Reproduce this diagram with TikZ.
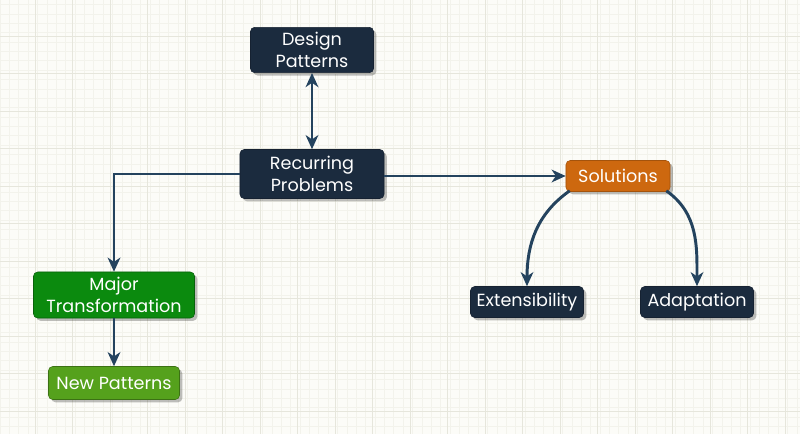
\documentclass[tikz,border=0pt]{standalone}
\usepackage{fontspec}
\setmainfont{Poppins}
\usetikzlibrary{arrows.meta,shadows}

\definecolor{paper}{HTML}{FCFCF8}
\definecolor{gridminor}{HTML}{F3F3EC}
\definecolor{gridmajor}{HTML}{E6E6DC}
\definecolor{navy}{HTML}{1B2B3E}
\definecolor{link}{HTML}{24435E}
\definecolor{solorange}{HTML}{CD680F}
\definecolor{majgreen}{HTML}{0B8A0E}
\definecolor{newgreen}{HTML}{55A11C}

\tikzset{
    box/.style={rounded corners=3pt, text=white, align=center,
        font=\fontsize{12.5}{16}\selectfont,
        drop shadow={shadow xshift=2pt, shadow yshift=-2pt, fill=black, opacity=0.25}},
    navybox/.style={box, fill=navy, draw=navy!80!black},
    orangebox/.style={box, fill=solorange, draw=solorange!80!black},
    greenbox/.style={box, fill=majgreen, draw=majgreen!70!black},
    lightgreenbox/.style={box, fill=newgreen, draw=newgreen!70!black},
    arr/.style={draw=link, line width=2.1pt, >={Stealth[length=10pt,width=9pt,inset=3pt]}, ->}
}

\begin{document}
\begin{tikzpicture}[x=0.025cm,y=-0.025cm]
    %background and grid
    \fill[paper] (0,0) rectangle (800,434);
    \useasboundingbox (0,0) rectangle (800,434);
    \foreach \gx in {0,9.375,...,800} \draw[gridminor,line width=0.4pt] (\gx,0) -- (\gx,434);
    \foreach \gy in {4.5,13.875,...,434} \draw[gridminor,line width=0.4pt] (0,\gy) -- (800,\gy);
    \foreach \gx in {35,72.5,...,800} \draw[gridmajor,line width=0.5pt] (\gx,0) -- (\gx,434);
    \foreach \gy in {36,73.5,...,434} \draw[gridmajor,line width=0.5pt] (0,\gy) -- (800,\gy);

    %nodes
    \node[navybox, minimum width=3.075cm, minimum height=1.125cm] (design) at (312,50) {Design\\Patterns};
    \node[navybox, minimum width=3.6cm, minimum height=1.225cm] (recurring) at (312,174) {Recurring\\Problems};
    \node[orangebox, minimum width=2.6cm, minimum height=0.775cm] (solutions) at (618,176) {Solutions};
    \node[greenbox, minimum width=4.025cm, minimum height=1.15cm] (major) at (114,295) {Major\\Transformation};
    \node[lightgreenbox, minimum width=3.275cm, minimum height=0.825cm] (newpat) at (114,383) {New Patterns};
    \node[navybox, minimum width=2.825cm, minimum height=0.775cm] (ext) at (527,302) {Extensibility};
    \node[navybox, minimum width=2.825cm, minimum height=0.775cm] (adapt) at (697,302) {Adaptation};

    %connectors
    \draw[arr, <->] (design.south) -- (recurring.north);
    \draw[arr] (recurring.west) -| (major.north);
    \draw[arr] (recurring.east |- solutions.west) -- (solutions.west);
    \draw[arr] (major.south) -- (newpat.north);
    \draw[arr] (solutions.south west) ++(4,-1) to[out=-145,in=90] (ext.north);
    \draw[arr] (solutions.south east) ++(-4,-1) to[out=-35,in=90] (adapt.north);
\end{tikzpicture}
\end{document}
